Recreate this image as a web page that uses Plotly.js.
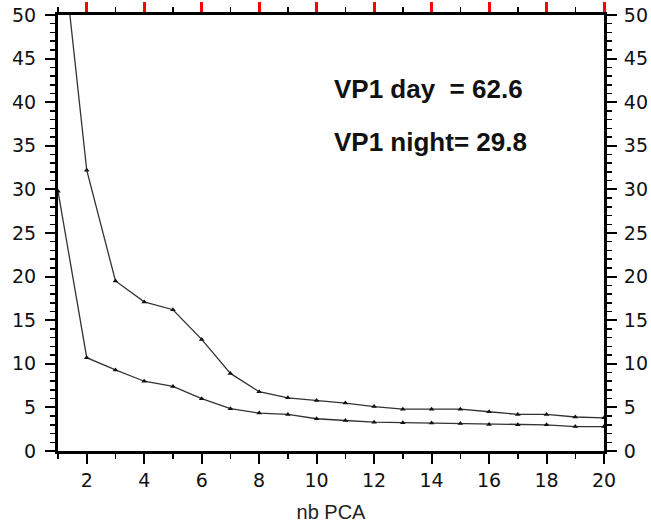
<!DOCTYPE html>
<html>
<head>
<meta charset="utf-8">
<script src="https://cdn.plot.ly/plotly-3.0.1.min.js"></script>
<style>html,body{margin:0;padding:0;background:#fff;}#chart{width:651px;height:531px;}</style>
</head>
<body>
<div id="chart"></div>
<script>
const nbPCA = [1,2,3,4,5,6,7,8,9,10,11,12,13,14,15,16,17,18,19,20];
const vpDay = [62.6,32.2,19.5,17.1,16.2,12.8,8.9,6.8,6.1,5.8,5.5,5.1,4.8,4.8,4.8,4.5,4.2,4.2,3.9,3.8];
const vpNight = [29.8,10.7,9.3,8.0,7.4,6.0,4.85,4.35,4.2,3.7,3.5,3.3,3.25,3.2,3.15,3.05,3.0,3.0,2.8,2.8];
const yTicks = [0,5,10,15,20,25,30,35,40,45,50];
const xTicks = [2,4,6,8,10,12,14,16,18,20];
const xMinorTicks = [3,5,7,9,11,13,15,17,19];
const labelDay = "VP1 day\u00a0\u00a0= 62.6";
const labelNight = "VP1 night= 29.8";
const xTitle = "nb PCA";

const lineStyle = {color:'#333', width:1.3};
const markerStyle = {symbol:'triangle-up', size:5, color:'#111'};

const traces = [
  {x:nbPCA, y:vpDay, mode:'lines+markers', line:lineStyle, marker:markerStyle, xaxis:'x', yaxis:'y'},
  {x:nbPCA, y:vpNight, mode:'lines+markers', line:lineStyle, marker:markerStyle, xaxis:'x', yaxis:'y2'}
];

const tickFont = {family:'DejaVu Sans', size:19, color:'#111'};
const common = {
  ticks:'outside', ticklen:10, tickwidth:2, tickcolor:'#000',
  minor:{dtick:1, ticks:'outside', ticklen:5, tickwidth:1.5, tickcolor:'#000', showgrid:false},
  showline:true, linewidth:3, linecolor:'#000', showgrid:false, zeroline:false,
  tickfont:tickFont
};

const layout = {
  width:651, height:531,
  margin:{l:58, r:47, t:15, b:80},
  paper_bgcolor:'#fff', plot_bgcolor:'#fff',
  showlegend:false,
  xaxis:Object.assign({}, common, {
    range:[1,20], tickmode:'array', tickvals:xTicks, ticktext:xTicks.map(String), side:'bottom',
    title:{text:xTitle, font:{family:'Liberation Sans', size:20, color:'#222'}, standoff:16}
  }),
  xaxis2:Object.assign({}, common, {
    range:[1,20], tickmode:'array', tickvals:xTicks, side:'top', anchor:'y', overlaying:'x',
    showticklabels:false, ticklen:10, tickcolor:'#f00', tickwidth:3
  }),
  yaxis:Object.assign({}, common, {range:[0,50], tickmode:'array', tickvals:yTicks, ticktext:yTicks.map(String), side:'left', ticklabelstandoff:5}),
  yaxis2:Object.assign({}, common, {range:[0,50], tickmode:'array', tickvals:yTicks, ticktext:yTicks.map(String), side:'right', overlaying:'y', ticklabelstandoff:3}),
  annotations:[
    {xref:'paper', yref:'paper', x:0.502, y:0.83, xanchor:'left', yanchor:'middle', showarrow:false,
     text:labelDay, font:{family:'Liberation Sans', size:26, color:'#111', weight:'bold'}},
    {xref:'paper', yref:'paper', x:0.502, y:0.709, xanchor:'left', yanchor:'middle', showarrow:false,
     text:labelNight, font:{family:'Liberation Sans', size:26, color:'#111', weight:'bold'}}
  ]
};

traces.push({x:[1,20], y:[0,0], xaxis:'x2', yaxis:'y', mode:'lines', line:{width:0}, hoverinfo:'skip', showlegend:false});

Plotly.newPlot('chart', traces, layout, {displayModeBar:false, staticPlot:true});
</script>
</body>
</html>
